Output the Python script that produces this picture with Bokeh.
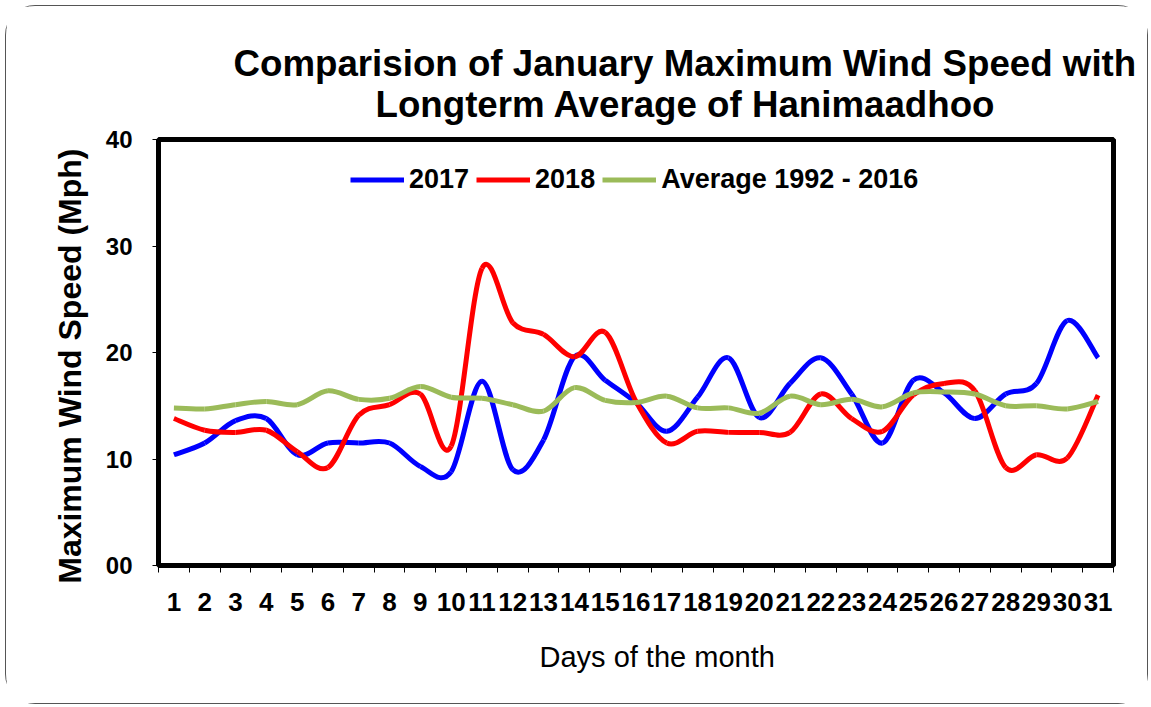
from bokeh.plotting import figure
from bokeh.models import (Range1d, FixedTicker, Legend, LegendItem, Title)
from bokeh.embed import file_html
from bokeh.resources import INLINE

days = list(range(1, 32))
day_labels = [str(d) for d in days]
y_ticks = [0, 10, 20, 30, 40]
y_tick_labels = ["00", "10", "20", "30", "40"]

wind_2017 = [10.4, 11.5, 13.6, 13.8, 10.4, 11.5, 11.5, 11.5, 9.3, 8.8,
             17.3, 9.0, 11.8, 19.6, 17.4, 15.3, 12.6, 15.8, 19.5, 13.9,
             17.1, 19.5, 16.1, 11.5, 17.4, 16.2, 13.8, 16.1, 17.1, 23.0, 19.5]
wind_2018 = [13.8, 12.7, 12.5, 12.7, 10.7, 9.2, 14.1, 15.1, 16.1, 11.2,
             27.9, 22.8, 21.7, 19.6, 21.9, 15.4, 11.5, 12.6, 12.5, 12.5,
             12.5, 16.1, 13.8, 12.6, 16.0, 17.1, 16.4, 9.2, 10.4, 10.1, 16.0]
wind_avg = [14.8, 14.7, 15.1, 15.4, 15.1, 16.4, 15.6, 15.7, 16.8, 15.8,
            15.7, 15.1, 14.5, 16.7, 15.5, 15.3, 15.9, 14.8, 14.8, 14.3,
            15.9, 15.1, 15.6, 14.9, 16.2, 16.3, 16.1, 15.0, 15.0, 14.7, 15.4]

series_names = ["2017", "2018", "Average 1992 - 2016"]
series_colors = ["#0000FF", "#FF0000", "#9BBB59"]
series_values = [wind_2017, wind_2018, wind_avg]

title_lines = ["Comparision of January Maximum Wind Speed with",
               "Longterm Average of Hanimaadhoo"]
x_label = "Days of the month"
y_label = "Maximum Wind Speed (Mph)"

FONT = "Liberation Sans"

p = figure(width=1143, height=699, output_backend="svg", toolbar_location=None,
           x_range=Range1d(0.5, 31.5), y_range=Range1d(0, 40),
           min_border_left=152, min_border_right=36,
           min_border_top=133, min_border_bottom=140)
p.styles = {"border": "1.5px solid #555555", "border-radius": "30px",
            "margin": "5px 0px 0px 5px"}
p.grid.visible = False
p.outline_line_color = "black"
p.outline_line_width = 5
p.background_fill_color = "white"
p.border_fill_color = "white"


def smooth_segments(xs, ys):
    n = len(xs)
    out = {k: [] for k in ["x0", "y0", "x1", "y1", "cx0", "cy0", "cx1", "cy1"]}
    for i in range(n - 1):
        xm, ym = (xs[i - 1], ys[i - 1]) if i > 0 else (xs[i], ys[i])
        xp, yp = (xs[i + 2], ys[i + 2]) if i + 2 < n else (xs[i + 1], ys[i + 1])
        out["x0"].append(xs[i]); out["y0"].append(ys[i])
        out["x1"].append(xs[i + 1]); out["y1"].append(ys[i + 1])
        out["cx0"].append(xs[i] + (xs[i + 1] - xm) / 6.0)
        out["cy0"].append(ys[i] + (ys[i + 1] - ym) / 6.0)
        out["cx1"].append(xs[i + 1] - (xp - xs[i]) / 6.0)
        out["cy1"].append(ys[i + 1] - (yp - ys[i]) / 6.0)
    return out


items = []
for name, color, vals in zip(series_names, series_colors, series_values):
    seg = smooth_segments(days, vals)
    r = p.bezier(x0=seg["x0"], y0=seg["y0"], x1=seg["x1"], y1=seg["y1"],
                 cx0=seg["cx0"], cy0=seg["cy0"], cx1=seg["cx1"], cy1=seg["cy1"],
                 line_color=color, line_width=5)
    items.append(LegendItem(label=name, renderers=[r]))

legend = Legend(items=items, orientation="horizontal", location=(192, 370),
                padding=0, margin=0, spacing=7, glyph_width=54, glyph_height=27,
                label_standoff=5, label_text_font=FONT, label_text_font_style="bold",
                label_text_font_size="27px", label_height=27,
                label_text_color="black",
                border_line_color=None, background_fill_alpha=0)
p.add_layout(legend, "center")

# x axis
xa = p.xaxis[0]
xa.ticker = FixedTicker(ticks=days, minor_ticks=[d + 0.5 for d in range(0, 32)])
xa.major_label_overrides = {d: lab for d, lab in zip(days, day_labels)}
xa.major_tick_out = 0
xa.major_tick_in = 0
xa.minor_tick_out = 7
xa.minor_tick_in = 0
xa.axis_line_color = None
xa.major_label_text_font = FONT
xa.major_label_text_font_style = "bold"
xa.major_label_text_font_size = "26px"
xa.major_label_text_color = "black"
xa.major_label_standoff = 20

# y axis
ya = p.yaxis[0]
ya.ticker = FixedTicker(ticks=y_ticks, minor_ticks=[])
ya.major_label_overrides = {t: lab for t, lab in zip(y_ticks, y_tick_labels)}
ya.major_tick_out = 6
ya.major_tick_in = 0
ya.minor_tick_out = 0
ya.axis_line_color = None
ya.major_label_text_font = FONT
ya.major_label_text_font_style = "bold"
ya.major_label_text_font_size = "24px"
ya.major_label_text_color = "black"
ya.major_label_standoff = 20

# y-axis title as a side title (allows shifting along the axis)
p.add_layout(Title(text=y_label, align="right", offset=9,
                   text_font=FONT, text_font_style="bold",
                   text_font_size="32px", text_color="black",
                   standoff=30), "left")

# title: second line added first (closest to frame)
t2 = Title(text=title_lines[1], align="left", offset=217,
           text_font=FONT, text_font_style="bold",
           text_font_size="36.7px", text_color="black", standoff=14)
t1 = Title(text=title_lines[0], align="left", offset=75,
           text_font=FONT, text_font_style="bold",
           text_font_size="36.7px", text_color="black", standoff=0)
try:
    t1.standoff = -33
    t2.standoff = 29
except Exception:
    t1.standoff = 0
    t2.standoff = 14
p.add_layout(t2, "above")
p.add_layout(t1, "above")

p.add_layout(Title(text=x_label, align="left", offset=381,
                   text_font=FONT, text_font_style="normal",
                   text_font_size="29px", text_color="black",
                   standoff=50), "below")

open("out.html", "w").write(file_html(p, INLINE))
